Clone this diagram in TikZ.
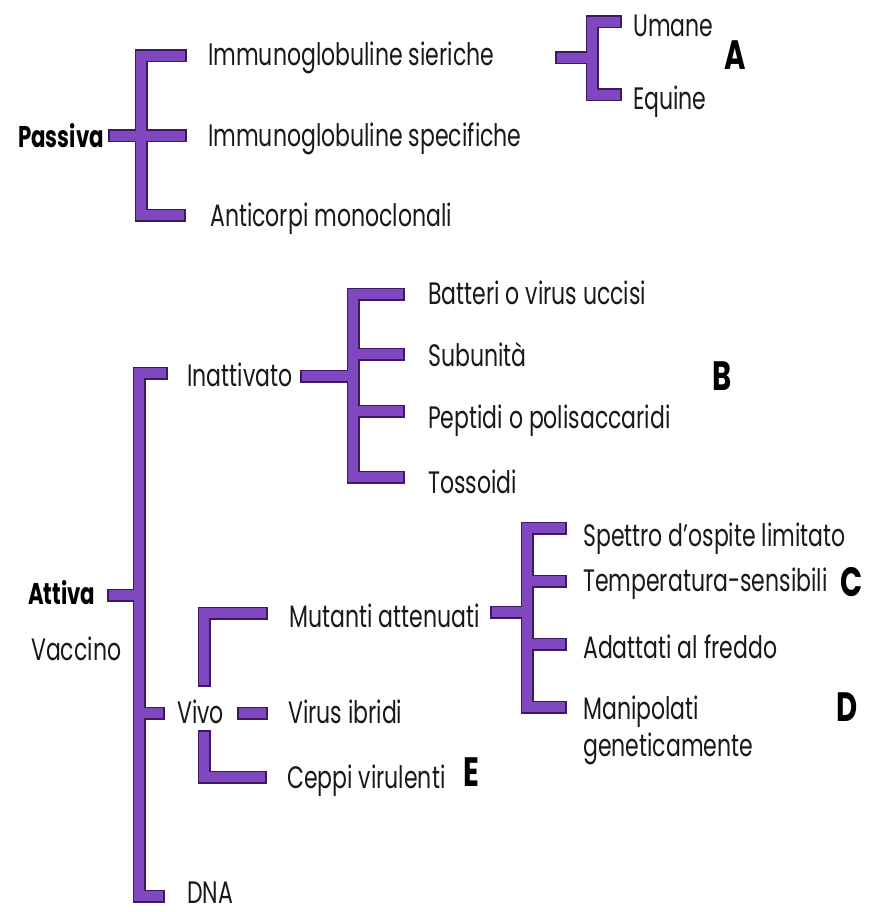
\documentclass[tikz,border=0pt]{standalone}
\usepackage{fontspec}
\setmainfont{Poppins}[FakeStretch=0.71]
\definecolor{brin}{RGB}{128,72,190}
\definecolor{brout}{RGB}{62,24,96}
\tikzset{
  lbl/.style={anchor=base west,inner sep=0pt,font=\fontsize{31}{34}\selectfont,text=black!90},
  blbl/.style={anchor=base west,inner sep=0pt,font=\fontsize{30}{34}\selectfont\bfseries},
  letter/.style={anchor=base west,inner sep=0pt,font=\fontsize{41}{44}\selectfont\bfseries},
  outer/.style={draw=brout,line width=13pt,line cap=butt,line join=miter},
  inner/.style={draw=brin,line width=9.5pt,line cap=butt,line join=miter,shorten <=1.75pt,shorten >=1.75pt},
}
\newcommand\allbrackets[1]{%
  % Passiva
  \draw[#1] (187,56) -- (141,56) -- (141,215) -- (186,215);
  \draw[#1] (108,136) -- (187,136);
  % A
  \draw[#1] (622,22) -- (592,22) -- (592,95) -- (622,95);
  \draw[#1] (555,58) -- (592,58);
  % Attiva main
  \draw[#1] (168,373) -- (139,373) -- (139,896) -- (165,896);
  \draw[#1] (107,595) -- (139,595);
  \draw[#1] (139,713) -- (165,713);
  % B
  \draw[#1] (300,376) -- (353,376);
  \draw[#1] (405,294) -- (353,294) -- (353,477) -- (405,477);
  \draw[#1] (353,354) -- (405,354);
  \draw[#1] (353,411) -- (405,411);
  % Vivo
  \draw[#1] (268,613) -- (204,613) -- (204,687);
  \draw[#1] (204,730) -- (204,777) -- (267,777);
  \draw[#1] (237,713) -- (268,713);
  % C
  \draw[#1] (490,612) -- (527,612);
  \draw[#1] (567,528) -- (527,528) -- (527,707) -- (567,707);
  \draw[#1] (527,581) -- (567,581);
  \draw[#1] (527,644) -- (567,644);
}
\begin{document}
\begin{tikzpicture}[x=1pt,y=-1pt]
\useasboundingbox[fill=white] (0,0) rectangle (872,912);
\allbrackets{outer}
\allbrackets{inner}
% Passiva group
\node[blbl] (passiva) at (18,148) {Passiva};
\node[lbl] (sier) at (208,66) {Immunoglobuline sieriche};
\node[lbl] (spec) at (208,147) {Immunoglobuline specifiche};
\node[lbl] (mono) at (210,226) {Anticorpi monoclonali};
\node[lbl] (umane) at (633,37) {Umane};
\node[lbl] (equine) at (633,110) {Equine};
\node[letter] (la) at (724,70) {A};
% Attiva group
\node[blbl] (attiva) at (28,604) {Attiva};
\node[lbl] (vaccino) at (31,660) {Vaccino};
\node[lbl] (inatt) at (187,386) {Inattivato};
\node[lbl] (batt) at (428,304) {Batteri o virus uccisi};
\node[lbl] (subu) at (428,366) {Subunità};
\node[lbl] (pept) at (428,428) {Peptidi o polisaccaridi};
\node[lbl] (toss) at (428,493) {Tossoidi};
\node[letter] (lb) at (712,390) {B};
\node[lbl] (vivo) at (177,723) {Vivo};
\node[lbl] (muta) at (289,627) {Mutanti attenuati};
\node[lbl] (ibri) at (288,723) {Virus ibridi};
\node[lbl] (cepp) at (287,788) {Ceppi virulenti};
\node[letter] (le) at (463,786) {E};
\node[lbl] (spet) at (583,546) {Spettro d’ospite limitato};
\node[lbl] (temp) at (583,591) {Temperatura-sensibili};
\node[lbl] (adat) at (583,658) {Adattati al freddo};
\node[lbl] (mani) at (583,719) {Manipolati};
\node[lbl] (gene) at (583,756) {geneticamente};
\node[letter] (lc) at (840,596) {C};
\node[letter] (ld) at (836,721) {D};
\node[lbl] (dna) at (187,903) {DNA};
\end{tikzpicture}
\end{document}
